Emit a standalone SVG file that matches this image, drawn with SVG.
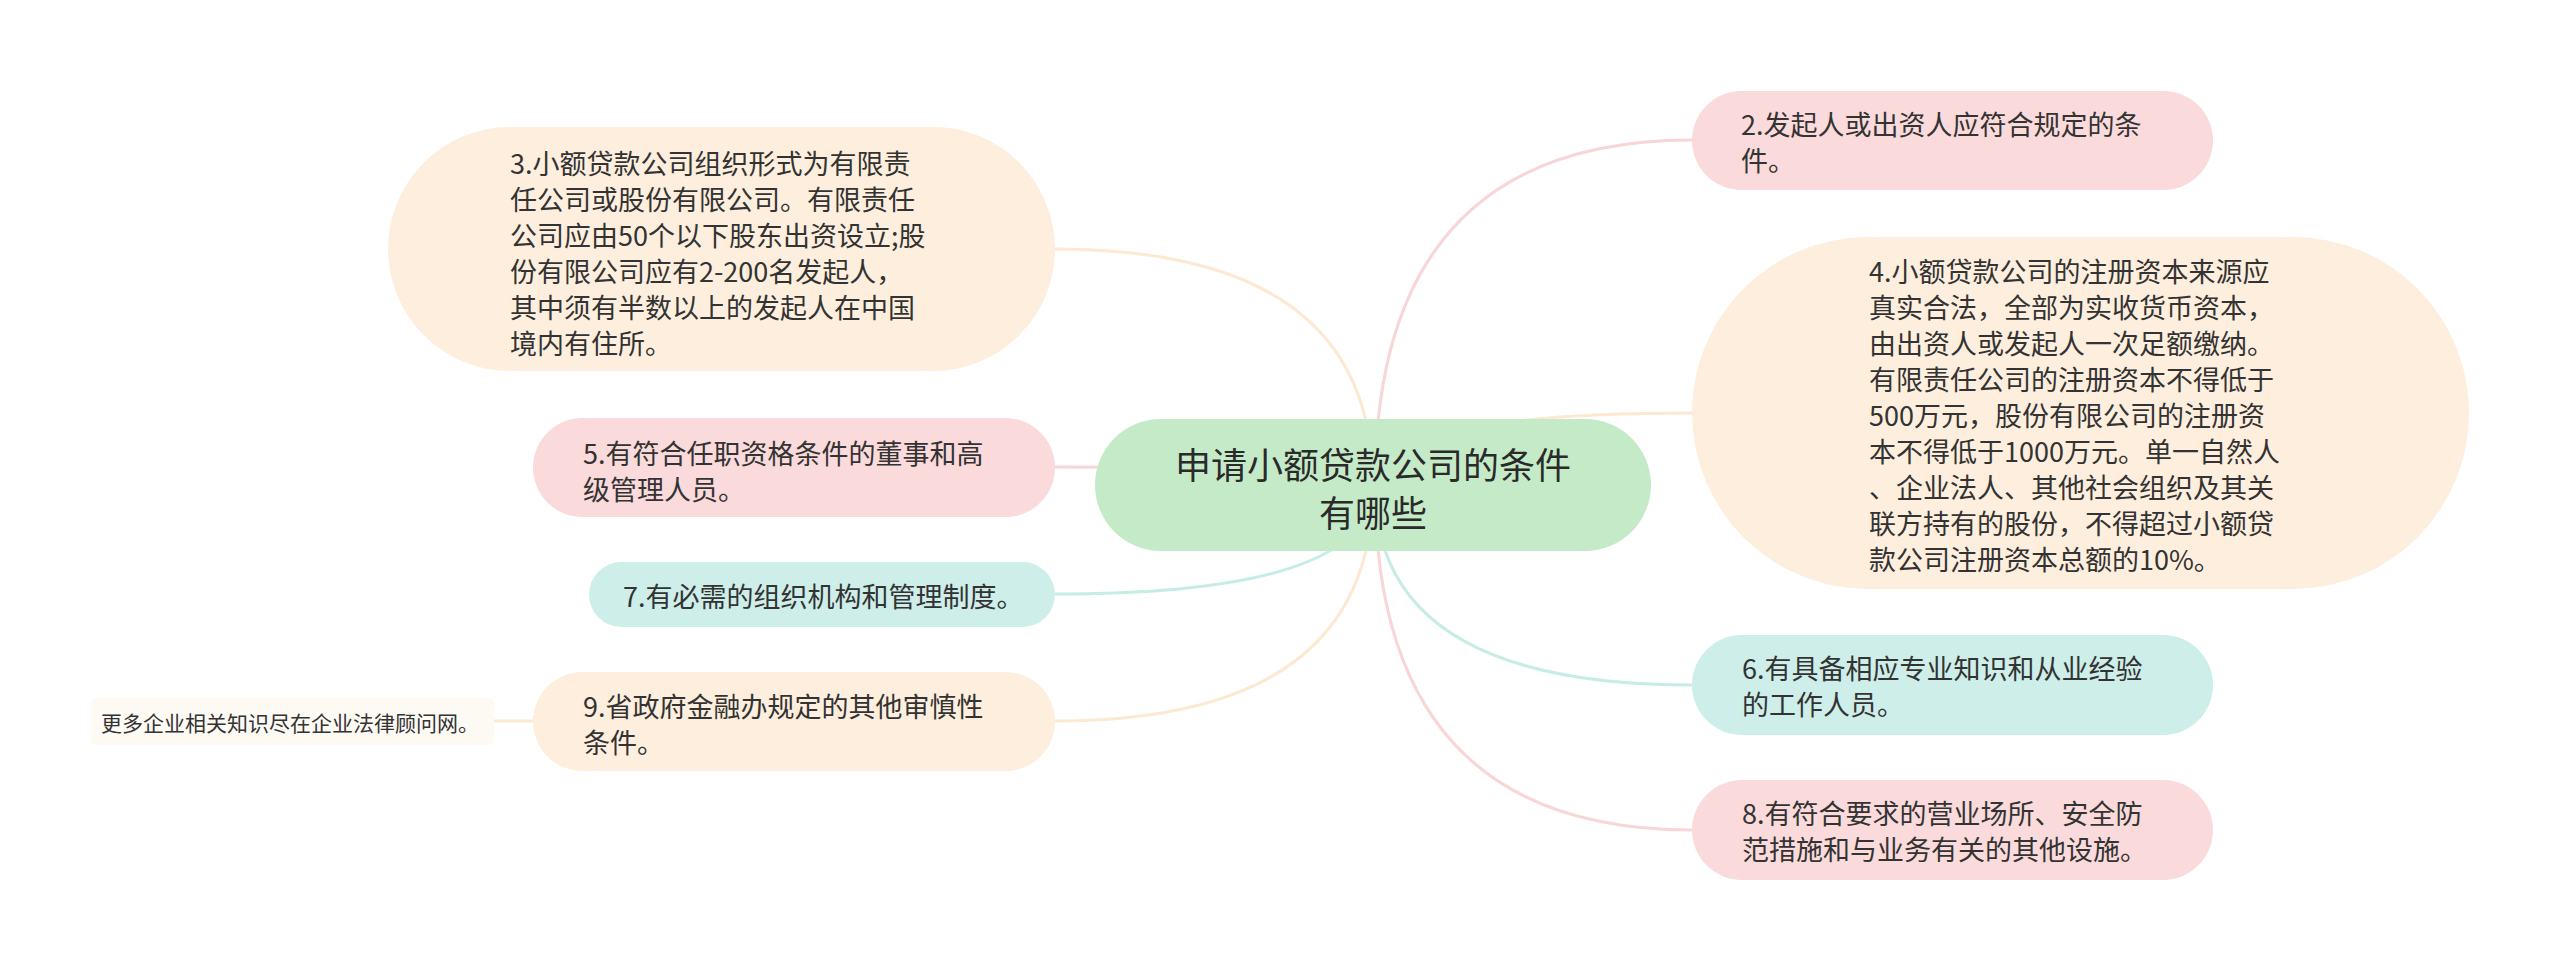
<svg xmlns="http://www.w3.org/2000/svg" width="2560" height="971" viewBox="0 0 2560 971">
<style>
.t{font-family:"Noto Sans CJK SC","Noto Sans",sans-serif;font-size:27px;fill:#333333;dominant-baseline:central}
.root{font-family:"Noto Sans CJK SC","Noto Sans",sans-serif;font-size:36px;fill:#2a2a2a;dominant-baseline:central;text-anchor:middle}
.small{font-family:"Noto Sans CJK SC","Noto Sans",sans-serif;font-size:21px;fill:#333333;dominant-baseline:central}
.pink{fill:#fadadb}
.peach{fill:#fdeedd}
.teal{fill:#cdeee9}
.green{fill:#c5eac8}
.cp{fill:none;stroke:#f8d6d7;stroke-width:3}
.co{fill:none;stroke:#fde8d2;stroke-width:3}
.ct{fill:none;stroke:#c6ece6;stroke-width:3}
</style>
<rect width="2560" height="971" fill="#ffffff"/>
<g id="connectors">
<path class="co" d="M1373,486 Q1373,249 1055,249"/>
<path class="cp" d="M1373,486 Q1373,467 1055,467"/>
<path class="ct" d="M1373,486 Q1373,594 1055,594"/>
<path class="co" d="M1373,486 Q1373,721 1055,721"/>
<path class="co" d="M494,721 L533,721"/>
<path class="cp" d="M1375,486 Q1375,140 1692,140"/>
<path class="co" d="M1375,486 Q1375,413 1692,413"/>
<path class="ct" d="M1375,486 Q1375,685 1692,685"/>
<path class="cp" d="M1375,486 Q1375,830 1692,830"/>
</g>
<g id="root">
<rect class="green" x="1095" y="419" width="556" height="132" rx="66"/>
<text class="root" x="1373" y="463">申请小额贷款公司的条件</text>
<text class="root" x="1373" y="511">有哪些</text>
</g>
<g id="node3">
<rect class="peach" x="388" y="127" width="667" height="244" rx="122"/>
<text class="t" x="510" y="162">3.小额贷款公司组织形式为有限责</text>
<text class="t" x="510" y="198">任公司或股份有限公司。有限责任</text>
<text class="t" x="510" y="234">公司应由50个以下股东出资设立;股</text>
<text class="t" x="510" y="270">份有限公司应有2-200名发起人，</text>
<text class="t" x="510" y="306">其中须有半数以上的发起人在中国</text>
<text class="t" x="510" y="342">境内有住所。</text>
</g>
<g id="node5">
<rect class="pink" x="533" y="418" width="522" height="99" rx="49.5"/>
<text class="t" x="583" y="452">5.有符合任职资格条件的董事和高</text>
<text class="t" x="583" y="488">级管理人员。</text>
</g>
<g id="node7">
<rect class="teal" x="589" y="562" width="466" height="65" rx="32.5"/>
<text class="t" x="623" y="595">7.有必需的组织机构和管理制度。</text>
</g>
<g id="node9">
<rect class="peach" x="533" y="672" width="522" height="99" rx="49.5"/>
<text class="t" x="583" y="705">9.省政府金融办规定的其他审慎性</text>
<text class="t" x="583" y="741">条件。</text>
</g>
<g id="footer">
<rect x="91" y="698" width="403" height="47" rx="6" fill="#fdf9f3"/>
<text class="small" x="101" y="722">更多企业相关知识尽在企业法律顾问网。</text>
</g>
<g id="node2">
<rect class="pink" x="1692" y="91" width="521" height="99" rx="49.5"/>
<text class="t" x="1741" y="123">2.发起人或出资人应符合规定的条</text>
<text class="t" x="1741" y="159">件。</text>
</g>
<g id="node4">
<rect class="peach" x="1692" y="237" width="777" height="352" rx="176"/>
<text class="t" x="1869" y="270">4.小额贷款公司的注册资本来源应</text>
<text class="t" x="1869" y="306">真实合法，全部为实收货币资本，</text>
<text class="t" x="1869" y="342">由出资人或发起人一次足额缴纳。</text>
<text class="t" x="1869" y="378">有限责任公司的注册资本不得低于</text>
<text class="t" x="1869" y="414">500万元，股份有限公司的注册资</text>
<text class="t" x="1869" y="450">本不得低于1000万元。单一自然人</text>
<text class="t" x="1869" y="486">、企业法人、其他社会组织及其关</text>
<text class="t" x="1869" y="522">联方持有的股份，不得超过小额贷</text>
<text class="t" x="1869" y="558">款公司注册资本总额的10%。</text>
</g>
<g id="node6">
<rect class="teal" x="1692" y="635" width="521" height="100" rx="50"/>
<text class="t" x="1742" y="667">6.有具备相应专业知识和从业经验</text>
<text class="t" x="1742" y="703">的工作人员。</text>
</g>
<g id="node8">
<rect class="pink" x="1692" y="780" width="521" height="100" rx="50"/>
<text class="t" x="1742" y="812">8.有符合要求的营业场所、安全防</text>
<text class="t" x="1742" y="848">范措施和与业务有关的其他设施。</text>
</g>
</svg>
